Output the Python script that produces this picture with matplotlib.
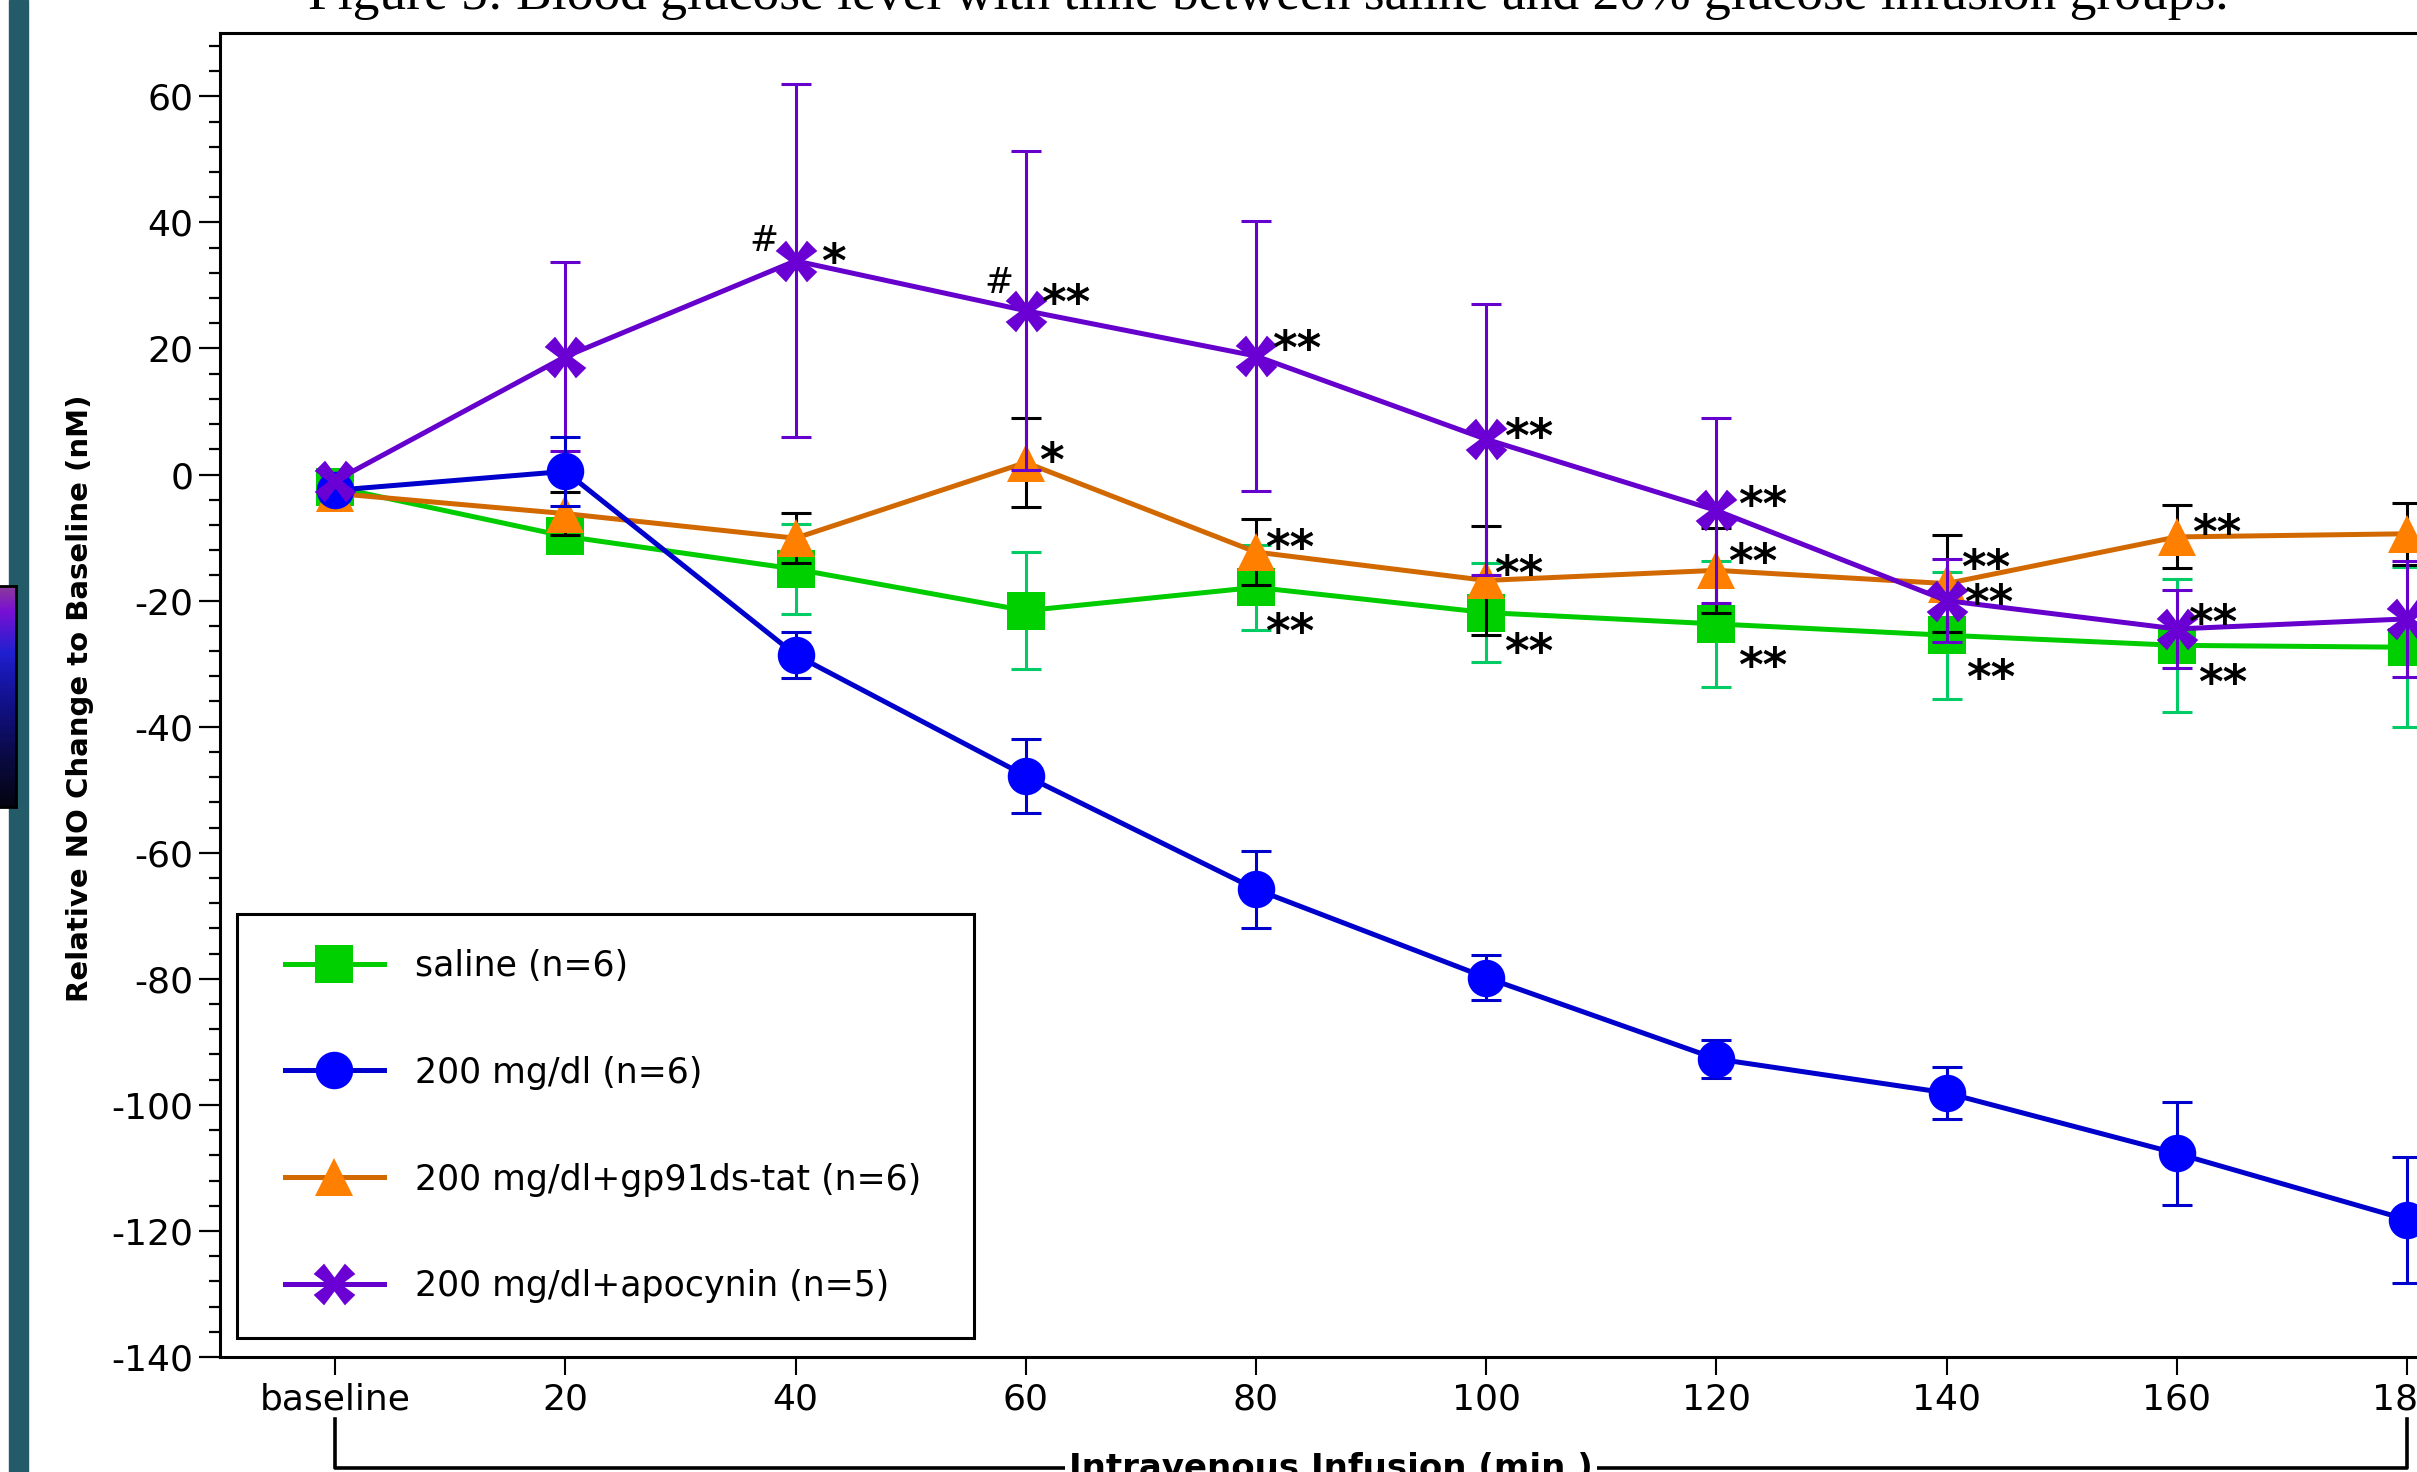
import numpy as np
import matplotlib
matplotlib.use('Agg')
import matplotlib.pyplot as plt
import matplotlib.transforms as mtransforms
from matplotlib.path import Path
from matplotlib.patches import Rectangle
from matplotlib.lines import Line2D
from matplotlib.legend_handler import HandlerLine2D
from matplotlib.ticker import MultipleLocator
from matplotlib.colors import LinearSegmentedColormap

plt.rcParams['font.family'] = 'DejaVu Sans'
plt.rcParams['axes.unicode_minus'] = False

# data (relative NO change, nM)
times = [0, 20, 40, 60, 80, 100, 120, 140, 160, 180]
xtick_labels = ['baseline', '20', '40', '60', '80', '100', '120', '140', '160', '180']

saline = [-2.0, -9.8, -15.0, -21.6, -17.9, -21.9, -23.7, -25.5, -27.1, -27.4]
saline_err = [1.5, 1.5, 7.2, 9.3, 6.7, 7.8, 10.0, 10.1, 10.5, 12.7]
glu200 = [-2.5, 0.5, -28.6, -47.8, -65.8, -79.8, -92.7, -98.1, -107.7, -118.2]
glu200_err = [1.0, 5.5, 3.6, 5.9, 6.1, 3.5, 3.0, 4.1, 8.2, 10.0]
gp91 = [-3.0, -6.2, -10.1, 1.9, -12.3, -16.8, -15.2, -17.3, -9.9, -9.4]
gp91_err = [1.0, 3.4, 4.0, 7.1, 5.2, 8.6, 6.7, 7.7, 5.0, 4.9]
apocynin = [-1.0, 18.7, 33.9, 26.0, 18.8, 5.6, -5.7, -20.0, -24.5, -22.9]
apocynin_err = [1.0, 15.0, 28.0, 25.3, 21.4, 21.5, 14.7, 6.6, 6.2, 9.2]

labels = ['saline (n=6)', '200 mg/dl (n=6)', '200 mg/dl+gp91ds-tat (n=6)',
          '200 mg/dl+apocynin (n=5)']

# significance marks: (series, time, text, dx px, dy px) offset from the point
marks = [
    ('apocynin', 40, '#', -32, 22), ('apocynin', 40, '*', 38, 11),
    ('apocynin', 60, '#', -27, 30), ('apocynin', 60, '**', 40, 20),
    ('gp91', 60, '*', 26, 14),
    ('apocynin', 80, '**', 41, 19), ('gp91', 80, '**', 34, 16), ('saline', 80, '**', 34, -32),
    ('apocynin', 100, '**', 43, 15), ('gp91', 100, '**', 33, 19), ('saline', 100, '**', 43, -27),
    ('apocynin', 120, '**', 46, 18), ('gp91', 120, '**', 36, 21), ('saline', 120, '**', 46, -30),
    ('gp91', 140, '**', 39, 28), ('apocynin', 140, '**', 42, 10), ('saline', 140, '**', 44, -30),
    ('gp91', 160, '**', 40, 16), ('apocynin', 160, '**', 36, 18), ('saline', 160, '**', 46, -25),
    ('gp91', 180, '**', 35, 18), ('apocynin', 180, '**', 35, 26),
]

# flared X marker for the apocynin group
xv = [(0, 0.3), (0.45, 0.9), (0.9, 0.45), (0.3, 0), (0.9, -0.45), (0.45, -0.9),
      (0, -0.3), (-0.45, -0.9), (-0.9, -0.45), (-0.3, 0), (-0.9, 0.45), (-0.45, 0.9), (0, 0.3)]
xmarker = Path(xv, [Path.MOVETO] + [Path.LINETO] * 11 + [Path.CLOSEPOLY])

series = {
    'saline': (saline, saline_err, '#00cc00', '#00d000', '#00cc66', 's', 28),
    'glu200': (glu200, glu200_err, '#0000cc', '#0000ff', '#0000cc', 'o', 27),
    'gp91': (gp91, gp91_err, '#d26900', '#ff8000', 'black', '^', 28),
    'apocynin': (apocynin, apocynin_err, '#6600cc', '#6a00d4', '#6600cc', xmarker, 30),
}

W, H = 2417, 1472
fig = plt.figure(figsize=(W / 100, H / 100), dpi=100)

# left decoration: dark strip and a bit of a colour bar
fig.add_artist(Rectangle((9 / W, 0), 19 / W, 1, transform=fig.transFigure,
                         color='#245b69', zorder=0))
cmap = LinearSegmentedColormap.from_list('cb', [
    (0.0, '#040410'), (0.21, '#0a0a40'), (0.44, '#101080'), (0.6, '#1818b0'),
    (0.7, '#2020d0'), (0.89, '#7a10d4'), (1.0, '#8a3c98')])
cax = fig.add_axes([0, 1 - 807 / H, 16 / W, 221 / H])
cax.imshow(np.linspace(1, 0, 256).reshape(-1, 1), aspect='auto', cmap=cmap)
cax.set_xticks([])
cax.set_yticks([])
for s in ['top', 'bottom', 'right']:
    cax.spines[s].set_linewidth(2)
cax.spines['left'].set_visible(False)

fig.text(1268 / W, 1 - 9 / H,
         'Figure 5: Blood glucose level with time between saline and 20% glucose infusion groups.',
         ha='center', va='baseline', fontsize=38.5, family='Liberation Serif')

ax = fig.add_axes([220 / W, 115 / H, 2302 / W, 1323.7 / H])

handles = {}
z = 2
for key in ['saline', 'gp91']:
    vals, err, lc, mc, ec, m, ms = series[key]
    ax.errorbar(times, vals, yerr=err, fmt='none', ecolor=ec, elinewidth=2.2,
                capsize=10.5, capthick=2.2, zorder=z)
    handles[key], = ax.plot(times, vals, color=lc, lw=3.6, marker=m, ms=ms, mfc=mc,
                            mec=mc, mew=0, zorder=z + 0.5)
    z += 1
for key in ['apocynin', 'glu200']:
    vals, err, lc, mc, ec, m, ms = series[key]
    ax.errorbar(times, vals, yerr=err, fmt='none', ecolor=ec, elinewidth=2.2,
                capsize=10.5, capthick=2.2, zorder=z)
    z += 1
for key in ['glu200', 'apocynin']:
    vals, err, lc, mc, ec, m, ms = series[key]
    handles[key], = ax.plot(times, vals, color=lc, lw=3.6, marker=m, ms=ms, mfc=mc,
                            mec=mc, mew=0, zorder=z)
    z += 1

for key, t, txt, dx, dy in marks:
    v = series[key][0][times.index(t)]
    if txt == '#':
        fs, lift, fw = 25, 12.4, 'normal'
    else:
        fs, lift, fw = 34, 27.4, 'bold'
    ax.annotate(txt, xy=(t, v), xytext=(dx, dy - lift), textcoords='offset pixels',
                ha='center', va='baseline', fontsize=fs, fontweight=fw, color='black',
                zorder=10, annotation_clip=False)

ax.set_xlim(-10, 190)
ax.set_ylim(-140, 70)
ax.set_xticks(times)
ax.set_xticklabels(xtick_labels)
ax.set_yticks(np.arange(-140, 61, 20))
ax.yaxis.set_minor_locator(MultipleLocator(4))
ax.tick_params(axis='y', which='major', direction='out', length=15, width=1.6,
               labelsize=26, pad=4)
ax.tick_params(axis='y', which='minor', direction='out', length=8, width=1.6)
ax.tick_params(axis='x', which='major', direction='out', length=13, width=1.5,
               labelsize=26, pad=5)
for s in ax.spines.values():
    s.set_linewidth(2.2)

ax.set_ylabel('Relative NO Change to Baseline (nM)', fontsize=21, fontweight='bold', va='center')
ax.yaxis.set_label_coords(-0.0608, 0.4978)

# bracket under the time axis
trans = mtransforms.blended_transform_factory(ax.transData, ax.transAxes)
ax.plot([0, 0, 180, 180], [-0.0468, -0.0839, -0.0839, -0.0468], color='black', lw=2.6,
        transform=trans, clip_on=False)
ax.text(86.5, -0.0839, 'Intravenous Infusion (min )', transform=trans, ha='center',
        va='center', fontsize=24.5, fontweight='bold',
        bbox=dict(facecolor='white', edgecolor='none', pad=3))

leg = ax.legend([handles[k] for k in ['saline', 'glu200', 'gp91', 'apocynin']], labels,
                loc='upper left', bbox_to_anchor=(0.0073, 0.0347, 0.3202, 0.3),
                mode='expand', borderaxespad=0, fontsize=25, handlelength=3.23,
                handletextpad=0.9, labelspacing=2.1, borderpad=1.0, fancybox=False,
                framealpha=1, edgecolor='black',
                handler_map={Line2D: HandlerLine2D(xpad=0.375)})
leg.get_frame().set_linewidth(2.2)

fig.savefig('out.png', dpi=100)
